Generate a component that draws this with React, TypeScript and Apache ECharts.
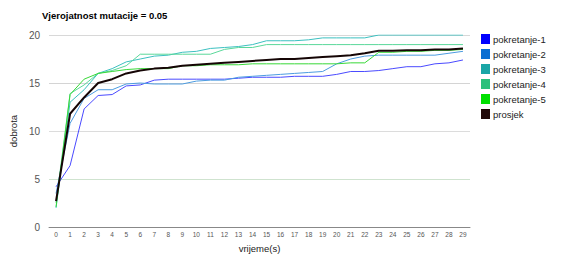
import React, { useEffect, useRef } from "react";
import * as echarts from "echarts";

const categories = Array.from({ length: 30 }, (_, i) => String(i));
const seriesNames = ["pokretanje-1", "pokretanje-2", "pokretanje-3", "pokretanje-4", "pokretanje-5", "prosjek"];
const p1 = [4.2, 6.4, 12.3, 13.7, 13.8, 14.7, 14.8, 15.3, 15.4, 15.4, 15.4, 15.4, 15.4, 15.5, 15.6, 15.6, 15.6, 15.7, 15.7, 15.7, 15.9, 16.2, 16.2, 16.3, 16.5, 16.7, 16.7, 17.0, 17.1, 17.4];
const p2 = [3.5, 10.8, 13.4, 14.3, 14.3, 14.9, 15.0, 14.9, 14.9, 14.9, 15.2, 15.3, 15.3, 15.6, 15.7, 15.8, 15.9, 16.0, 16.1, 16.2, 17.0, 17.5, 17.8, 17.9, 17.9, 17.9, 17.9, 17.9, 18.1, 18.3];
const p3 = [2.0, 13.0, 14.3, 16.0, 16.5, 17.2, 17.5, 17.8, 17.9, 18.2, 18.3, 18.6, 18.7, 18.8, 19.0, 19.4, 19.4, 19.4, 19.5, 19.7, 19.7, 19.7, 19.7, 20.0, 20.0, 20.0, 20.0, 20.0, 20.0, 20.0];
const p4 = [2.5, 13.9, 14.8, 16.0, 16.3, 16.8, 18.0, 18.0, 18.0, 18.0, 18.0, 18.0, 18.5, 18.7, 18.7, 19.0, 19.0, 19.0, 19.0, 19.0, 19.0, 19.0, 19.0, 19.0, 19.0, 19.0, 19.0, 19.0, 19.0, 19.0];
const p5 = [2.1, 13.8, 15.4, 16.0, 16.2, 16.4, 16.5, 16.5, 16.5, 16.8, 16.8, 16.9, 16.9, 16.9, 17.0, 17.0, 17.0, 17.0, 17.0, 17.0, 17.0, 17.1, 17.1, 18.2, 18.2, 18.3, 18.3, 18.4, 18.4, 18.5];
const avg = [2.7, 11.8, 13.5, 15.0, 15.4, 16.0, 16.3, 16.5, 16.6, 16.8, 16.9, 17.0, 17.1, 17.2, 17.3, 17.4, 17.5, 17.5, 17.6, 17.7, 17.8, 17.9, 18.1, 18.35, 18.35, 18.4, 18.4, 18.5, 18.5, 18.6];
const yTicks = [0, 5, 10, 15, 20];

const legendColors = ["#0000ff", "#0a6ed2", "#1aa6a6", "#2bc07c", "#00e000", "#200808"];
const lineColors = ["#4a4aff", "#4c9ce0", "#3cc0c0", "#5ad89a", "#38d838", "#150505"];
const lineWidths = [1, 1, 1, 1, 1, 2];

export default function App() {
  const ref = useRef<HTMLDivElement>(null);
  useEffect(() => {
    if (!ref.current) return;
    const chart = echarts.init(ref.current, null, { renderer: "svg" });
    const data = [p1, p2, p3, p4, p5, avg];
    chart.setOption({
      animation: false,
      backgroundColor: "#fff",
      title: {
        text: "Vjerojatnost mutacije = 0.05",
        left: 42,
        top: 10,
        padding: 0,
        textStyle: { fontFamily: "Liberation Sans", fontSize: 9.5, fontWeight: "bold", color: "#000" },
      },
      legend: {
        orient: "vertical",
        left: 481,
        top: 34,
        padding: 0,
        itemWidth: 9,
        itemHeight: 10,
        itemGap: 5,
        icon: "rect",
        data: seriesNames,
        textStyle: { fontFamily: "Liberation Sans", fontSize: 9.5, lineHeight: 10, color: "#222", padding: [0, 0, 0, -2] },
      },
      grid: { left: 43, right: 96, top: 35, bottom: 25 },
      xAxis: {
        type: "category",
        data: categories,
        boundaryGap: true,
        name: "vrijeme(s)",
        nameLocation: "middle",
        nameGap: 12,
        nameTextStyle: { fontFamily: "Liberation Sans", fontSize: 9.5, color: "#222" },
        axisLine: { lineStyle: { color: "#888", type: "dotted" } },
        axisTick: { show: false },
        axisLabel: { fontFamily: "Liberation Sans", fontSize: 6.5, color: "#555", margin: 4, interval: 0 },
      },
      yAxis: {
        type: "value",
        min: yTicks[0],
        max: yTicks[yTicks.length - 1],
        interval: 5,
        name: "dobrota",
        nameLocation: "middle",
        nameGap: 22,
        nameTextStyle: { fontFamily: "Liberation Sans", fontSize: 9.5, color: "#222" },
        axisLine: { show: false },
        axisTick: { show: false },
        axisLabel: { fontFamily: "Liberation Sans", fontSize: 10, color: "#555", margin: 9 },
        splitLine: { lineStyle: { color: ["#888", "#cfe3cf", "#dcdcdc", "#d4d4d4", "#d8d8d8"], width: 1 } },
      },
      series: seriesNames.map((name, i) => ({
        name,
        type: "line",
        data: data[i],
        showSymbol: false,
        symbol: "none",
        z: i === 5 ? 10 : 2,
        itemStyle: { color: legendColors[i] },
        lineStyle: { color: lineColors[i], width: lineWidths[i] },
      })),
    });
    return () => chart.dispose();
  }, []);
  return <div ref={ref} style={{ position: "absolute", left: 0, top: 0, width: 566, height: 258 }} />;
}
